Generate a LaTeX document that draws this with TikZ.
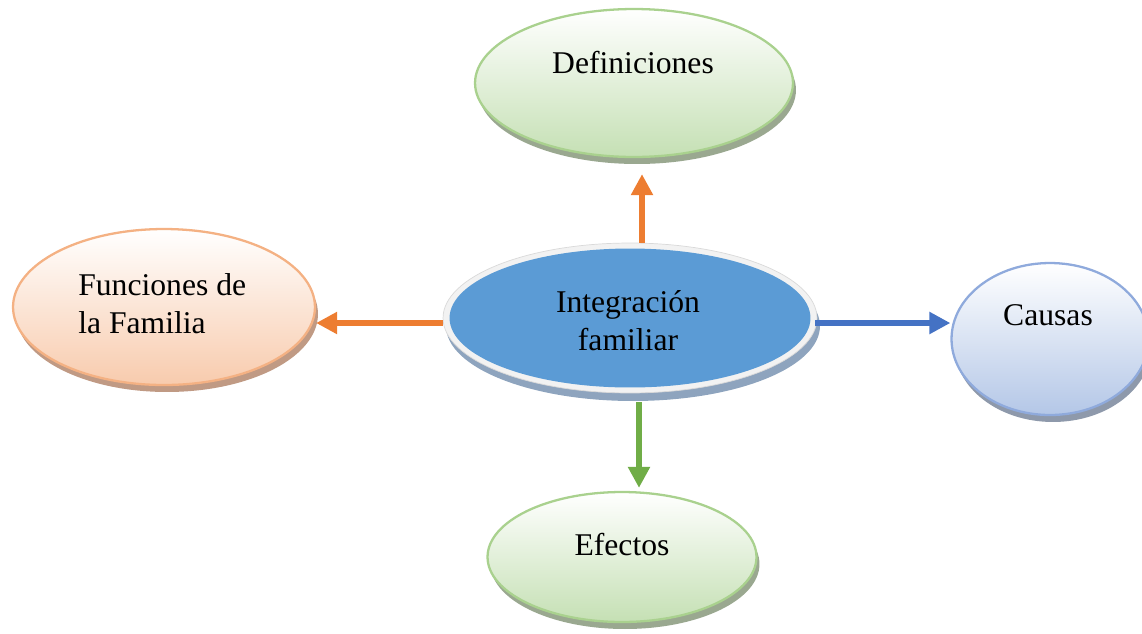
\documentclass[tikz,border=0pt]{standalone}
\usepackage{fontspec}
\setmainfont{Liberation Serif}
\usetikzlibrary{shapes.geometric,shadows,arrows.meta,calc}
\definecolor{grBorder}{HTML}{A9D18E}
\definecolor{grFill}{HTML}{C5E0B4}
\definecolor{grShadow}{HTML}{9AA890}
\definecolor{blBorder}{HTML}{8FAADC}
\definecolor{blFill}{HTML}{B4C7E7}
\definecolor{blShadow}{HTML}{8E99AB}
\definecolor{orBorder}{HTML}{F4B183}
\definecolor{orFill}{HTML}{F8CBAD}
\definecolor{orShadow}{HTML}{C09A84}
\definecolor{ctFill}{HTML}{5B9BD5}
\definecolor{ctRing}{HTML}{F2F2F2}
\definecolor{ctShadow}{HTML}{8EA4BE}
\definecolor{arOr}{HTML}{ED7D31}
\definecolor{arBl}{HTML}{4472C4}
\definecolor{arGr}{HTML}{70AD47}
\begin{document}
\begin{tikzpicture}[x=0.02cm,y=-0.02cm,
  bub/.style={ellipse, inner sep=0pt, line width=1.3pt},
  shad/.style={drop shadow={shadow xshift=0.06cm, shadow yshift=-0.14cm, fill=#1, opacity=1}},
  greenbub/.style={bub, draw=grBorder, top color=white, bottom color=grFill, shad=grShadow},
  bluebub/.style={bub, draw=blBorder, top color=white, bottom color=blFill, shad=blShadow},
  orbub/.style={bub, draw=orBorder, top color=white, bottom color=orFill, shad=orShadow},
  lbl/.style={font=\fontsize{18}{21.6}\selectfont, inner sep=0pt, text=black},
  conn/.style={line width=0.13cm, -{Triangle[length=0.42cm,width=0.42cm]}}
]
\useasboundingbox (0,0) rectangle (1142,633);

% outer nodes
\node[greenbub, minimum width=6.36cm, minimum height=2.96cm] (def) at (634,83) {};
\node[greenbub, minimum width=5.38cm, minimum height=2.6cm] (efe) at (622,557) {};
\node[orbub, minimum width=6.04cm, minimum height=3.12cm] (fun) at (164,307) {};
\node[bluebub, minimum width=3.94cm, minimum height=3.04cm] (cau) at (1050,339) {};

% central node
\node[bub, draw=black!15, line width=0.4pt, fill=ctRing, minimum width=7.48cm, minimum height=3.0cm,
      drop shadow={shadow xshift=0.06cm, shadow yshift=-0.16cm, fill=ctShadow, opacity=1}] (ring) at (630,318) {};
\node[bub, draw=none, fill=ctFill, minimum width=7.22cm, minimum height=2.78cm] (cen) at (630,318) {};

% labels
\node[lbl, anchor=base] (tdef) at (633,73) {Definiciones};
\node[lbl, anchor=base] (tefe) at (622,555) {Efectos};
\node[lbl, anchor=base] (tcau) at (1048,325) {Causas};
\node[lbl, anchor=base west] (tfun1) at (78,295) {Funciones de};
\node[lbl, anchor=base west] (tfun2) at (78,333) {la Familia};
\node[lbl, anchor=base] (tcen1) at (628,312) {Integración};
\node[lbl, anchor=base] (tcen2) at (628,350) {familiar};

% connectors
\coordinate (defin) at ($(def.south)+(8,16)$);
\draw[conn, arOr] ($(ring.north)+(12,0)$) -- (defin);
\draw[conn, arOr] ($(ring.west)+(0,5)$) -- ($(fun.east)+(0,16)$);
\draw[conn, arBl] ($(ring.east)+(-2,5)$) -- ($(cau.west)+(0,-16)$);
\draw[conn, arGr] ($(ring.south)+(9,9)$) -- ($(efe.north)+(17,-3)$);
\end{tikzpicture}
\end{document}
